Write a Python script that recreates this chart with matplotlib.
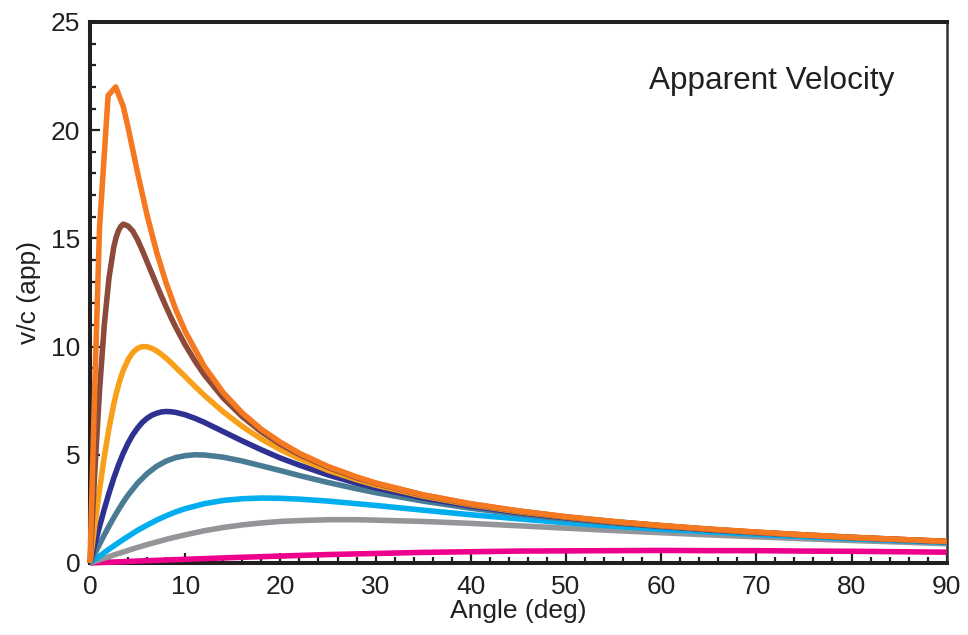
import matplotlib
matplotlib.use("Agg")
import matplotlib.pyplot as plt
from matplotlib.ticker import MultipleLocator

plt.rcParams['font.family'] = ['Liberation Sans', 'DejaVu Sans']

# ---- data ----
angles = [0, 0.5, 1, 1.5, 2, 2.5, 3, 3.5, 4, 5, 6, 7, 8, 9, 10, 12, 14, 16, 18, 20,
          22, 25, 28, 30, 35, 40, 45, 50, 55, 60, 65, 70, 75, 80, 85, 90]

angles_orange = [0, 0.5, 1, 1.9, 2.7, 3.5, 4, 5, 6, 7, 8, 9, 10, 12, 14, 16, 18, 20,
                 22, 25, 28, 30, 35, 40, 45, 50, 55, 60, 65, 70, 75, 80, 85, 90]
v_orange = [0, 8.2, 15.5, 21.6, 22.0, 21.08, 20.12, 18.02, 16.06, 14.36, 12.93, 11.72,
            10.70, 9.09, 7.87, 6.93, 6.18, 5.58, 5.07, 4.46, 3.98, 3.70, 3.15, 2.74,
            2.41, 2.14, 1.92, 1.73, 1.57, 1.43, 1.30, 1.19, 1.09, 1.00]

angles_brown = [0, 0.5, 1, 1.5, 2, 2.5, 2.75, 3, 3.25, 3.5, 4, 4.5, 5, 5.5, 6, 6.5, 7,
                7.5, 8, 8.5, 9, 10, 11, 12, 14, 16, 18, 20, 22, 25, 28, 30, 35, 40, 45,
                50, 55, 60, 65, 70, 75, 80, 85, 90]
v_brown = [0, 4.21, 7.98, 11.01, 13.20, 14.61, 15.06, 15.37, 15.56, 15.66, 15.57, 15.33,
           14.93, 14.44, 13.91, 13.38, 12.85, 12.33, 11.83, 11.35, 10.90, 10.08, 9.35,
           8.70, 7.62, 6.76, 6.06, 5.49, 5.01, 4.42, 3.94, 3.68, 3.14, 2.72, 2.40, 2.13,
           1.91, 1.73, 1.56, 1.42, 1.30, 1.19, 1.09, 1.00]

angles_gold = [0, 0.5, 1, 1.5, 2, 2.5, 2.75, 3, 3.25, 3.5, 4, 4.5, 5, 5.5, 6, 6.5, 7,
               7.5, 8, 8.5, 9, 10, 11, 12, 14, 16, 18, 20, 22, 25, 28, 30, 35, 40, 45,
               50, 55, 60, 65, 70, 75, 80, 85, 90]
v_gold = [0, 1.74, 3.40, 4.91, 6.24, 7.35, 7.82, 8.24, 8.60, 8.91, 9.40, 9.73, 9.92,
          10.00, 9.99, 9.92, 9.80, 9.64, 9.46, 9.26, 9.04, 8.61, 8.17, 7.75, 6.98, 6.31,
          5.73, 5.24, 4.82, 4.28, 3.85, 3.60, 3.09, 2.69, 2.37, 2.12, 1.90, 1.72, 1.56,
          1.42, 1.29, 1.18, 1.09, 1.00]

angles_navy = [0, 0.5, 1, 1.5, 2, 2.5, 3, 3.5, 4, 4.5, 5, 5.5, 6, 6.5, 7, 7.5, 8, 8.5,
               9, 10, 11, 12, 14, 16, 18, 20, 22, 25, 28, 30, 35, 40, 45, 50, 55, 60,
               65, 70, 75, 80, 85, 90]
v_navy = [0, 0.86, 1.69, 2.49, 3.24, 3.93, 4.54, 5.08, 5.54, 5.93, 6.24, 6.50, 6.69,
          6.83, 6.92, 6.98, 7.00, 6.99, 6.96, 6.85, 6.69, 6.50, 6.07, 5.64, 5.23, 4.85,
          4.52, 4.07, 3.69, 3.47, 3.00, 2.63, 2.33, 2.09, 1.88, 1.70, 1.54, 1.41, 1.29,
          1.18, 1.08, 0.99]

angles_steel = [0, 0.5, 1, 1.5, 2, 2.5, 3, 3.5, 4, 5, 6, 7, 8, 9, 10, 11, 12, 14, 16,
                18, 20, 22, 25, 28, 30, 35, 40, 45, 50, 55, 60, 65, 70, 75, 80, 85, 90]
v_steel = [0, 0.44, 0.87, 1.30, 1.71, 2.10, 2.47, 2.82, 3.14, 3.69, 4.13, 4.47, 4.71,
           4.87, 4.96, 5.00, 4.99, 4.89, 4.71, 4.49, 4.27, 4.04, 3.72, 3.43, 3.25, 2.86,
           2.53, 2.26, 2.03, 1.84, 1.67, 1.52, 1.39, 1.27, 1.16, 1.07, 0.98]

v_sky = [0, 0.16, 0.32, 0.48, 0.64, 0.79, 0.94, 1.09, 1.23, 1.51, 1.75, 1.98, 2.18,
         2.36, 2.51, 2.74, 2.89, 2.97, 3.00, 2.99, 2.95, 2.86, 2.74, 2.66, 2.44, 2.23,
         2.04, 1.86, 1.70, 1.56, 1.44, 1.32, 1.21, 1.12, 1.03, 0.95]

v_gray = [0, 0.07, 0.15, 0.22, 0.29, 0.37, 0.44, 0.51, 0.58, 0.72, 0.85, 0.97, 1.09,
          1.20, 1.30, 1.49, 1.64, 1.76, 1.85, 1.92, 1.96, 2.00, 2.00, 1.98, 1.92, 1.83,
          1.72, 1.61, 1.50, 1.40, 1.30, 1.21, 1.12, 1.04, 0.97, 0.89]

angles_pink = [0, 5, 10, 15, 20, 25, 30, 35, 40, 45, 50, 55, 60, 65, 70, 75, 80, 85, 90]
v_pink = [0, 0.09, 0.17, 0.25, 0.32, 0.39, 0.44, 0.49, 0.52, 0.55, 0.56, 0.57, 0.58,
          0.57, 0.57, 0.55, 0.54, 0.52, 0.50]

x_ticks = [0, 10, 20, 30, 40, 50, 60, 70, 80, 90]
y_ticks = [0, 5, 10, 15, 20, 25]
title_text = "Apparent Velocity"
x_label = "Angle (deg)"
y_label = "v/c (app)"

# ---- plot ----
fig = plt.figure(figsize=(9.68, 6.35), dpi=100)
ax = fig.add_axes([0.093, 0.1134, 0.885, 0.852])

lw = 4.0
series = [
    (angles_pink, v_pink, '#EC008C'),
    (angles, v_gray, '#939598'),
    (angles, v_sky, '#00AEEF'),
    (angles_steel, v_steel, '#4A7B94'),
    (angles_navy, v_navy, '#2E3192'),
    (angles_gold, v_gold, '#F9A01B'),
    (angles_brown, v_brown, '#8B4A3A'),
    (angles_orange, v_orange, '#F47920'),
]
for xs, ys, col in series:
    ax.plot(xs, ys, color=col, lw=lw, clip_on=False, solid_joinstyle='round',
            solid_capstyle='butt', zorder=3)

ax.set_xlim(0, 90)
ax.set_ylim(0, 25)
ax.set_xticks(x_ticks)
ax.set_yticks(y_ticks)
ax.xaxis.set_minor_locator(MultipleLocator(2))
ax.yaxis.set_minor_locator(MultipleLocator(1))

txt = '#231F20'
ax.tick_params(which='both', direction='in', color='#231F20', width=1.6,
               top=False, right=False)
ax.tick_params(which='major', length=7)
ax.tick_params(which='minor', length=4.5)
ax.tick_params(axis='x', which='major', pad=9, labelsize=19, labelcolor=txt)
ax.tick_params(axis='y', which='major', pad=7, labelsize=19, labelcolor=txt)

for side in ['left', 'bottom', 'top']:
    ax.spines[side].set_linewidth(2.9)
    ax.spines[side].set_color('#231F20')
ax.spines['right'].set_linewidth(1.8)
ax.spines['right'].set_color('#333333')
for sp in ax.spines.values():
    sp.set_zorder(2)

ax.set_xlabel(x_label, fontsize=19, color=txt, labelpad=0)
ax.set_ylabel(y_label, fontsize=19, color=txt, labelpad=7)
ax.text(0.653, 0.89, title_text, transform=ax.transAxes, fontsize=22.7,
        color=txt, ha='left', va='center')

fig.savefig('out.png', dpi=100)
